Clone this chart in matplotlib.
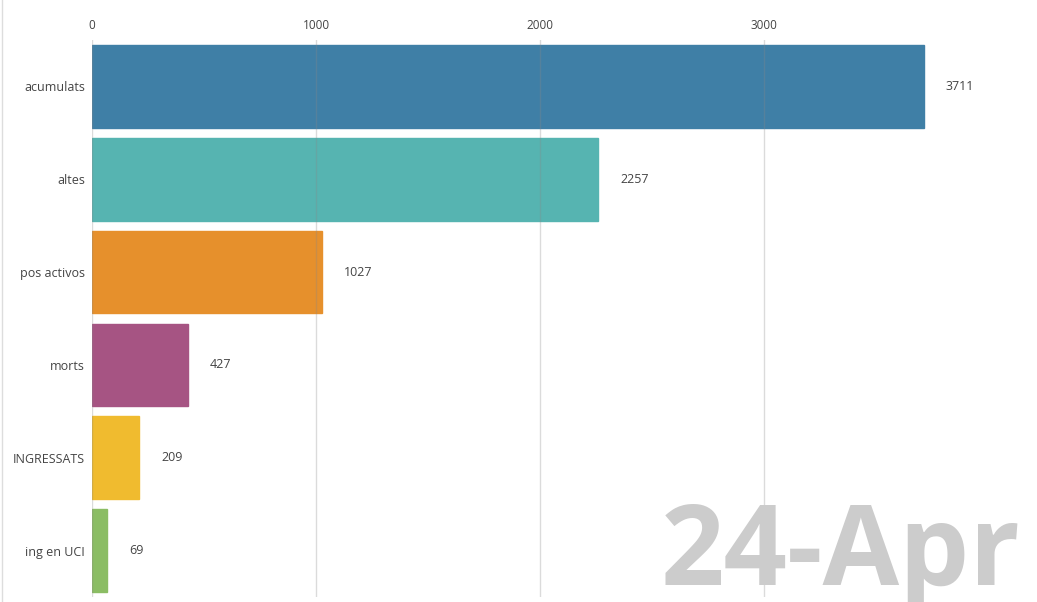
import matplotlib.pyplot as plt
from matplotlib.lines import Line2D

plt.rcParams['font.family'] = ['Open Sans', 'DejaVu Sans']

# data for 24-Apr
categories = ["acumulats", "altes", "pos activos", "morts", "INGRESSATS", "ing en UCI"]
values = [3711, 2257, 1027, 427, 209, 69]
colors = ["#3f7fa6", "#56b4b1", "#e6902c", "#a65483", "#f0bb2f", "#8bbd64"]
date_label = "24-Apr"
ticks = [0, 1000, 2000, 3000]

fig = plt.figure(figsize=(10.37, 6.02), dpi=100)
ax = fig.add_axes([92/1037, 5/602, (966-92)/1037, (597-40)/602])

ypos = list(range(len(categories)))
ax.barh(ypos, values, height=0.89, color=colors, edgecolor=colors, linewidth=1, zorder=2)

for y, v in zip(ypos, values):
    ax.annotate(str(v), (v, y), xytext=(16, 0), textcoords="offset points",
                va="center", ha="left", fontsize=9, color="#444444")

ax.set_xlim(0, 3900)
ax.set_ylim(5.5, -0.5)
ax.set_yticks(ypos)
ax.set_yticklabels(categories, fontsize=9, color="#444444")
ax.set_xticks(ticks)
ax.set_xticklabels([str(t) for t in ticks], fontsize=8.5, color="#444444")
ax.xaxis.tick_top()
ax.tick_params(axis="both", length=0)
ax.tick_params(axis="x", pad=6)
ax.tick_params(axis="y", pad=5)
for s in ax.spines.values():
    s.set_visible(False)
ax.grid(axis="x", color="#888888", alpha=0.3, linewidth=1, zorder=3)
ax.set_axisbelow(False)

# big date in the corner
fig.text(1020/1037, 17/602, date_label, ha="right", va="baseline", fontsize=80,
         fontweight="bold", color="#cccccc", zorder=0)

# thin border line at the left edge
fig.add_artist(Line2D([1.5/1037, 1.5/1037], [0, 1], color="#dddddd", linewidth=1))

fig.savefig("out.png", dpi=100)
